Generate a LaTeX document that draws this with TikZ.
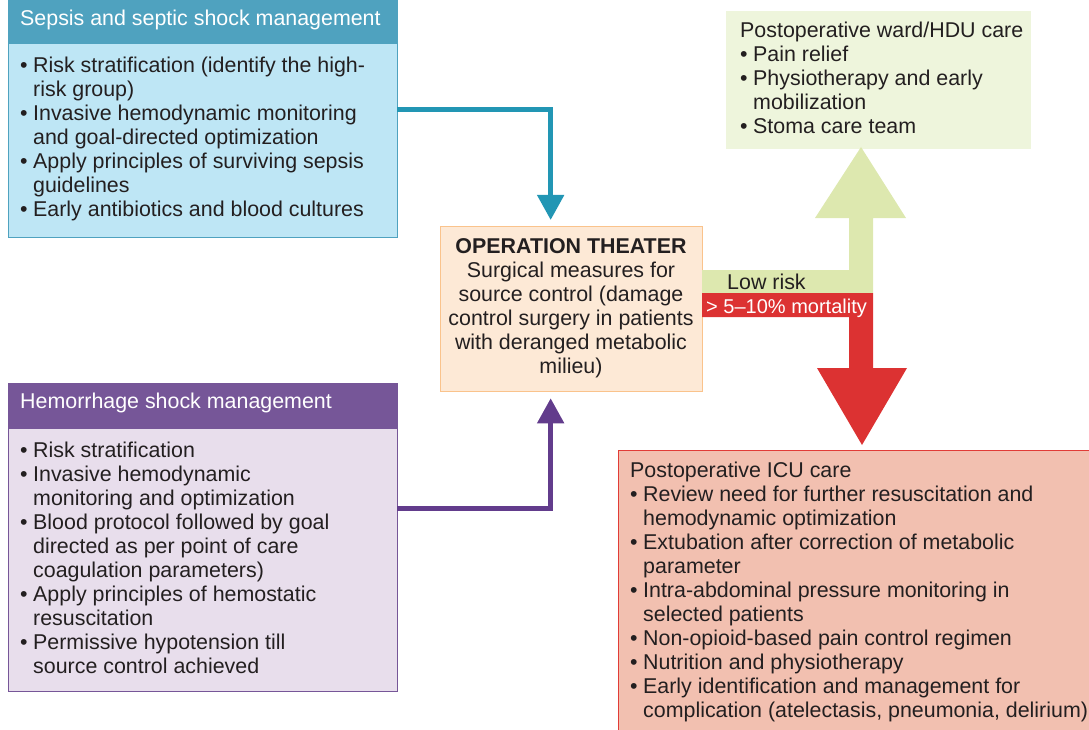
\documentclass[tikz,border=0pt]{standalone}
\usepackage{fontspec}
\setmainfont{Liberation Sans}
\usepackage{tikz}
\usetikzlibrary{arrows.meta,positioning}
\usepackage{xcolor}

\definecolor{sepsishead}{RGB}{79,162,191}
\definecolor{sepsisbody}{RGB}{190,230,245}
\definecolor{sepsisline}{RGB}{34,150,180}
\definecolor{hemohead}{RGB}{118,86,152}
\definecolor{hemobody}{RGB}{232,222,236}
\definecolor{hemoline}{RGB}{98,60,140}
\definecolor{otbody}{RGB}{253,233,214}
\definecolor{otline}{RGB}{250,195,140}
\definecolor{wardbody}{RGB}{238,245,220}
\definecolor{lowrisk}{RGB}{221,232,175}
\definecolor{icubody}{RGB}{242,192,176}
\definecolor{iculine}{RGB}{225,60,55}
\definecolor{highrisk}{RGB}{220,50,50}
\definecolor{txt}{RGB}{35,31,32}

\newlength{\bulw}\setlength{\bulw}{13pt}
\newcommand{\bitem}[1]{\par\hangindent=\bulw\hangafter=1\noindent\makebox[\bulw][l]{\textbullet}#1}
\newcommand{\boxtext}[2]{\parbox[t]{#1}{\fontsize{21.4}{24}\selectfont #2}}

\tikzset{
	boxbody/.style={anchor=north west, inner sep=0, line width=1.3pt},
	txtnode/.style={anchor=base west, inner sep=0, text=txt},
	thinarrow/.style={draw=#1, line width=5pt, -{Triangle[width=26pt,length=25pt]}},
}

\begin{document}
\begin{tikzpicture}[x=1pt, y=-1pt] % {{{
		\pgfmathsetmacro{\boxw}{389}
		\useasboundingbox (0,0) rectangle (1089,730);
		% Sepsis and septic shock {{{
		\node[boxbody, fill=sepsisbody, draw=sepsishead, minimum width=\boxw pt, minimum height=237pt] (sepsis) at (8,0) {};
		\node[boxbody, fill=sepsishead, draw=sepsishead, minimum width=\boxw pt, minimum height=43pt] (sepsishd) at (8,0) {};
		\node[txtnode, text=white] (sepsistitle) at (20,26) {\boxtext{370pt}{Sepsis and septic shock management}};
		\node[txtnode] (sepsislist) at (20,73) {\boxtext{380pt}{%
			\bitem{Risk stratification (identify the high-\\risk group)}
			\bitem{Invasive hemodynamic monitoring\\and goal-directed optimization}
			\bitem{Apply principles of surviving sepsis\\guidelines}
			\bitem{Early antibiotics and blood cultures}}};
		% }}}
		\begin{scope}[shift={(0,383)}] % Hemorrhage shock {{{
		\node[boxbody, fill=hemobody, draw=hemohead, minimum width=\boxw pt, minimum height=308pt] (hemo) at (8,0) {};
		\node[boxbody, fill=hemohead, draw=hemohead, minimum width=\boxw pt, minimum height=45pt] (hemohd) at (8,0) {};
		\node[txtnode, text=white] (hemotitle) at (20,25) {\boxtext{370pt}{Hemorrhage shock management}};
		\node[txtnode] (hemolist) at (20,74) {\boxtext{380pt}{%
			\bitem{Risk stratification}
			\bitem{Invasive hemodynamic\\monitoring and optimization}
			\bitem{Blood protocol followed by goal\\directed as per point of care\\coagulation parameters)}
			\bitem{Apply principles of hemostatic\\resuscitation}
			\bitem{Permissive hypotension till\\source control achieved}}};
		\end{scope} % }}}
		% Operation theater {{{
		\node[boxbody, fill=otbody, draw=otline, minimum width=262pt, minimum height=165pt] (ot) at (440,226) {};
		\node[txtnode, anchor=base] (ottext) at (571,253) {\boxtext{262pt}{\centering
			\textbf{OPERATION THEATER}\\Surgical measures for\\source control (damage\\control surgery in patients\\with deranged metabolic\\milieu)}};
		% }}}
		% Postoperative ward {{{
		\node[boxbody, fill=wardbody, draw=wardbody, minimum width=304pt, minimum height=137pt] (ward) at (726,11) {};
		\node[txtnode] (wardlist) at (740,38) {\boxtext{290pt}{%
			\noindent Postoperative ward/HDU care
			\bitem{Pain relief}
			\bitem{Physiotherapy and early\\mobilization}
			\bitem{Stoma care team}}};
		% }}}
		% Postoperative ICU {{{
		\node[boxbody, fill=icubody, draw=iculine, minimum width=480pt, minimum height=290pt] (icu) at (618,450) {};
		\node[txtnode] (iculist) at (630,477) {\boxtext{460pt}{%
			\noindent Postoperative ICU care
			\bitem{Review need for further resuscitation and\\hemodynamic optimization}
			\bitem{Extubation after correction of metabolic\\parameter}
			\bitem{Intra-abdominal pressure monitoring in\\selected patients}
			\bitem{Non-opioid-based pain control regimen}
			\bitem{Nutrition and physiotherapy}
			\bitem{Early identification and management for\\complication (atelectasis, pneumonia, delirium)}}};
		% }}}
		% Flechas {{{
		\coordinate (sepsisout) at (397,110);
		\coordinate (hemoout) at (397,508);
		\draw[thinarrow=sepsisline, shorten >=6pt] (sepsisout) -| ([xshift=-21pt]ot.north);
		\draw[thinarrow=hemoline, shorten >=6pt] (hemoout) -| ([xshift=-21pt]ot.south);
		% low risk, up to the ward
		\fill[lowrisk] (702,270) -- (849,270) -- (849,218) -- (815,218) -- (861,147) -- (906,218)
			-- (873,218) -- (873,293) -- (702,293) -- cycle;
		% high risk, down to the ICU
		\fill[highrisk] (702,293) -- (873,293) -- (873,368) -- (907,368) -- (862,445) -- (817,368)
			-- (849,368) -- (849,317) -- (702,317) -- cycle;
		\node[txtnode] (lowlabel) at (727,289) {\fontsize{21.4}{24}\selectfont Low risk};
		\node[txtnode, text=white] (highlabel) at (706,313) {\fontsize{20}{24}\selectfont > 5--10\% mortality};
		% }}}
\end{tikzpicture} % }}}
\end{document}
